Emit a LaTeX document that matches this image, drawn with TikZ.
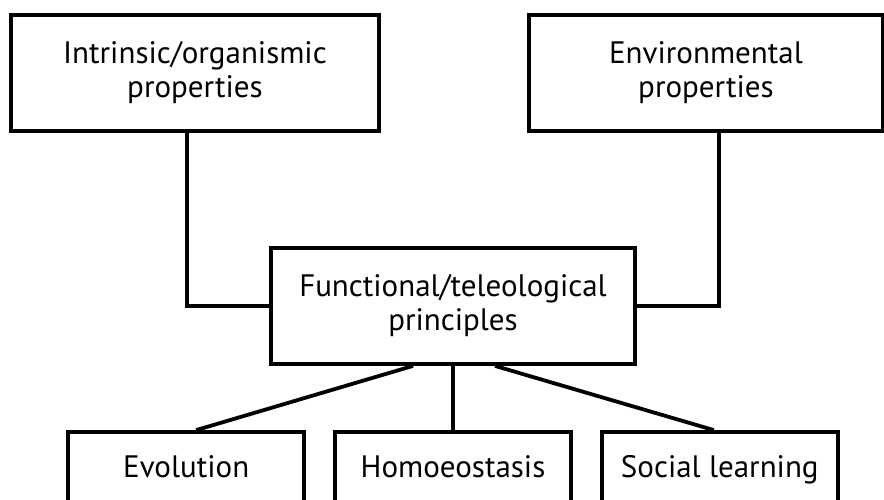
\documentclass[tikz,border=0pt]{standalone}
\usepackage{fontspec}
\setmainfont{PT Sans}
\usepackage{tikz}
\usetikzlibrary{positioning}

\begin{document}
\begin{tikzpicture}[x=1pt,y=-1pt,line width=3.8pt,
	main node/.style={rectangle,draw,align=center,minimum height=116pt,inner sep=0pt,
		font=\fontsize{31}{34}\selectfont},
	leaf node/.style={rectangle,draw,minimum width=236pt,minimum height=76pt,inner sep=0pt,
		text height=22pt,text depth=7pt,font=\fontsize{31}{34}\selectfont}]
	
	\clip (0,0) rectangle (884,500);
	
	\node[main node,minimum width=368pt] (intr) at (195,73) {Intrinsic/organismic\\properties};
	\node[main node,minimum width=354pt] (env) at (706,73) {Environmental\\properties};
	\node[main node,minimum width=364pt] (func) at (453,306) {Functional/teleological\\principles};
	
	\node[leaf node] (homo) at (453,470) {Homoeostasis};
	\node[leaf node] (evo) [left=27pt of homo] {Evolution};
	\node[leaf node] (soc) [right=27pt of homo] {Social learning};
	
	\draw ([xshift=-8pt]intr.south) |- (func.west);
	\draw ([xshift=13pt]env.south) |- (func.east);
	
	\path[draw]
	([xshift=-40pt]func.south) edge ([xshift=10pt]evo.north)
	(func.south) edge (homo.north)
	([xshift=42pt]func.south) edge ([xshift=-6pt]soc.north);
\end{tikzpicture}
\end{document}
